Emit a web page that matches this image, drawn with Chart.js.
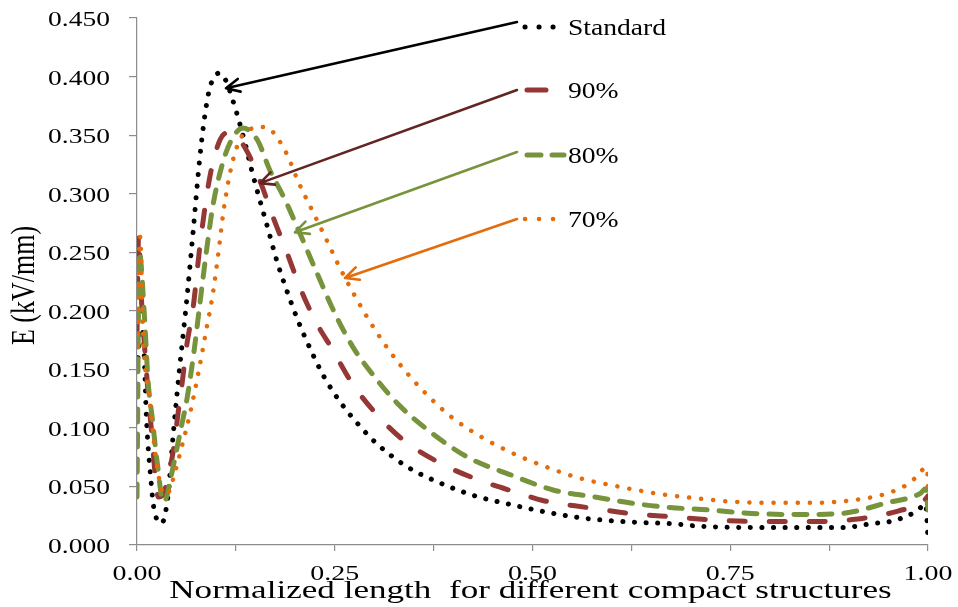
<!DOCTYPE html>
<html>
<head>
<meta charset="utf-8">
<script src="https://cdn.jsdelivr.net/npm/chart.js@4.4.1/dist/chart.umd.min.js"></script>
<style>
  body { margin: 0; background: #fff; }
  canvas { display: block; }
</style>
</head>
<body>
<canvas id="myChart" width="958" height="607"></canvas>
<script>
'use strict'

// series (x = normalized length, y = E in kV/mm)
let seriesNames = ['Standard', '90%', '80%', '70%'];

let stdX = [0, 0.005, 0.008, 0.012, 0.017, 0.021, 0.031, 0.039, 0.046, 0.054, 0.063, 0.071, 0.079, 0.085, 0.0915, 0.098, 0.104,
  0.112, 0.121, 0.129, 0.137, 0.145, 0.1555, 0.166, 0.1766, 0.189, 0.2027, 0.2187, 0.2364, 0.2588, 0.2853, 0.305,
  0.341, 0.383, 0.427, 0.476, 0.518, 0.564, 0.614, 0.68, 0.712, 0.779, 0.842, 0.893, 0.927, 0.958, 0.986, 0.997, 1.0];
let stdY = [0.15, 0.185, 0.178, 0.107, 0.06, 0.033, 0.0185, 0.041, 0.096, 0.152, 0.21, 0.268, 0.328, 0.363, 0.389, 0.400, 0.403,
  0.397, 0.380, 0.362, 0.342, 0.320, 0.294, 0.269, 0.243, 0.218, 0.193, 0.168, 0.1437, 0.1204, 0.0988, 0.0854,
  0.067, 0.053, 0.042, 0.034, 0.028, 0.023, 0.020, 0.018, 0.016, 0.015, 0.015, 0.015, 0.018, 0.021, 0.029, 0.035, 0.005];

let p90X = [0, 0.002, 0.006, 0.009, 0.014, 0.018, 0.023, 0.027, 0.033, 0.038, 0.046, 0.052, 0.057, 0.063, 0.071, 0.080, 0.092,
  0.105, 0.115, 0.127, 0.140, 0.156, 0.172, 0.190, 0.206, 0.225, 0.247, 0.272, 0.301, 0.336, 0.383, 0.430, 0.484,
  0.513, 0.569, 0.623, 0.678, 0.737, 0.794, 0.851, 0.908, 0.962, 0.994, 1.0];
let p90Y = [0.18, 0.265, 0.205, 0.175, 0.13, 0.10, 0.06, 0.041, 0.043, 0.055, 0.081, 0.113, 0.138, 0.171, 0.203, 0.258, 0.314,
  0.346, 0.352, 0.348, 0.335, 0.310, 0.280, 0.249, 0.220, 0.192, 0.167, 0.138, 0.113, 0.090, 0.070, 0.056, 0.044,
  0.038, 0.032, 0.027, 0.024, 0.021, 0.020, 0.020, 0.022, 0.029, 0.037, 0.042];

let p80X = [0, 0.003, 0.009, 0.014, 0.019, 0.026, 0.033, 0.037, 0.042, 0.050, 0.057, 0.063, 0.072, 0.080, 0.088, 0.096, 0.107,
  0.118, 0.134, 0.152, 0.168, 0.187, 0.206, 0.227, 0.250, 0.273, 0.301, 0.329, 0.368, 0.418, 0.472, 0.526, 0.579,
  0.633, 0.674, 0.722, 0.777, 0.834, 0.891, 0.948, 0.990, 0.997, 1.0];
let p80Y = [0.041, 0.25, 0.20, 0.14, 0.11, 0.068, 0.037, 0.040, 0.055, 0.081, 0.104, 0.124, 0.165, 0.209, 0.252, 0.290, 0.323,
  0.344, 0.356, 0.346, 0.320, 0.295, 0.266, 0.233, 0.198, 0.169, 0.143, 0.121, 0.098, 0.075, 0.060, 0.047, 0.041,
  0.035, 0.032, 0.030, 0.027, 0.026, 0.027, 0.036, 0.044, 0.048, 0.030];

let p70X = [0, 0.004, 0.008, 0.016, 0.023, 0.030, 0.035, 0.040, 0.048, 0.057, 0.067, 0.077, 0.088, 0.096, 0.103, 0.110, 0.120,
  0.130, 0.139, 0.152, 0.166, 0.177, 0.190, 0.204, 0.222, 0.240, 0.257, 0.276, 0.297, 0.320, 0.345, 0.370, 0.398,
  0.436, 0.476, 0.516, 0.560, 0.608, 0.657, 0.705, 0.753, 0.804, 0.853, 0.901, 0.948, 0.977, 0.999, 1.0];
let p70Y = [0.17, 0.263, 0.175, 0.124, 0.079, 0.050, 0.043, 0.045, 0.062, 0.085, 0.112, 0.145, 0.185, 0.215, 0.250, 0.288, 0.325,
  0.346, 0.353, 0.357, 0.356, 0.348, 0.333, 0.310, 0.285, 0.260, 0.236, 0.212, 0.188, 0.165, 0.144, 0.126, 0.109,
  0.092, 0.078, 0.067, 0.057, 0.050, 0.044, 0.040, 0.037, 0.036, 0.036, 0.038, 0.044, 0.053, 0.066, 0.040];

// axes
let xMin = 0, xMax = 1, xStep = 0.125, xLabelStep = 0.25;
let yMin = 0, yMax = 0.45, yStep = 0.05;
let xTitle = 'Normalized length  for different compact structures';
let yTitle = 'E (kV/mm)';

// callout arrows: from the legend entry to a point on each curve (data units)
let arrowFromX = [0.4804, 0.4804, 0.4804, 0.4804];
let arrowFromY = [0.4466, 0.3885, 0.3356, 0.2784];
let arrowToX = [0.1125, 0.1555, 0.1997, 0.263];
let arrowToY = [0.390, 0.309, 0.267, 0.228];
let legendDy = [5, 0, 3, 0];

let lineColors = ['#000000', '#953735', '#77933C', '#E46C0A'];
let arrowColors = ['#000000', '#632523', '#77933C', '#E46C0A'];

function zip(xs, ys) {
  let out = [];
  for (let i = 0; i < xs.length; i++) {
    out.push({ x: xs[i], y: ys[i] });
  }
  return out;
}

function stretchText(c, text, x, y, sx, align) {
  c.save();
  c.translate(x, y);
  c.scale(sx, 1);
  c.textAlign = align;
  c.fillText(text, 0, 0);
  c.restore();
}

function drawArrow(c, x1, y1, x2, y2, color, width) {
  let ang = Math.atan2(y1 - y2, x1 - x2);
  let len = 15, spread = 0.45;
  c.save();
  c.strokeStyle = color;
  c.lineWidth = width;
  c.lineCap = 'round';
  c.lineJoin = 'round';
  c.setLineDash([]);
  c.beginPath();
  c.moveTo(x1, y1);
  c.lineTo(x2, y2);
  c.moveTo(x2 + len * Math.cos(ang - spread), y2 + len * Math.sin(ang - spread));
  c.lineTo(x2, y2);
  c.lineTo(x2 + len * Math.cos(ang + spread), y2 + len * Math.sin(ang + spread));
  c.stroke();
  c.restore();
}

const textPlugin = {
  id: 'texts',
  afterDraw(chart) {
    const c = chart.ctx;
    const xs = chart.scales.x;
    const ys = chart.scales.y;
    const area = chart.chartArea;
    c.save();
    c.fillStyle = '#000';
    c.textBaseline = 'alphabetic';

    // y tick labels
    c.font = '21px "Liberation Serif", "Times New Roman", serif';
    ys.ticks.forEach(t => {
      stretchText(c, t.value.toFixed(3), 110, ys.getPixelForValue(t.value) + 8, 1.31, 'right');
    });

    // x tick labels, every other tick
    c.font = '22px "Liberation Serif", "Times New Roman", serif';
    xs.ticks.forEach(t => {
      let k = t.value / xLabelStep;
      if (Math.abs(k - Math.round(k)) < 1e-6) {
        stretchText(c, t.value.toFixed(2), xs.getPixelForValue(t.value), 580, 1.27, 'center');
      }
    });

    // axis titles
    c.font = '26px "Liberation Serif", "Times New Roman", serif';
    stretchText(c, xTitle, (area.left + area.right) / 2 - 2, 598, 1.35, 'center');
    c.save();
    c.translate(25, (area.top + area.bottom) / 2 + 4);
    c.rotate(-Math.PI / 2);
    c.scale(1, 1.3);
    c.textAlign = 'center';
    c.textBaseline = 'middle';
    c.fillText(yTitle, 0, 0);
    c.restore();

    // arrows
    for (let i = 0; i < arrowFromX.length; i++) {
      drawArrow(c,
        xs.getPixelForValue(arrowFromX[i]), ys.getPixelForValue(arrowFromY[i]),
        xs.getPixelForValue(arrowToX[i]), ys.getPixelForValue(arrowToY[i]),
        arrowColors[i], 2.6);
    }

    // legend samples + labels, next to the arrow tails
    c.font = '24px "Liberation Serif", "Times New Roman", serif';
    chart.data.datasets.forEach((ds, i) => {
      let ly = ys.getPixelForValue(arrowFromY[i]) + legendDy[i];
      let lx = xs.getPixelForValue(arrowFromX[i]) + 8;
      c.save();
      c.strokeStyle = ds.borderColor;
      c.lineWidth = ds.borderWidth;
      c.lineCap = 'round';
      c.beginPath();
      if (i === 1) {
        c.moveTo(lx + 2, ly); c.lineTo(lx + 21, ly);
      } else if (i === 2) {
        c.moveTo(lx + 2, ly); c.lineTo(lx + 16, ly);
        c.moveTo(lx + 27, ly); c.lineTo(lx + 39, ly);
      } else {
        for (let k = 0; k < 3; k++) { c.moveTo(lx + k * 14, ly); c.lineTo(lx + k * 14 + 0.1, ly); }
      }
      c.stroke();
      c.restore();
      stretchText(c, ds.label, 568, ly + 8, 1.15, 'left');
    });
    c.restore();
  }
};

let ctx = document.getElementById('myChart').getContext('2d');
let myChart = new Chart(ctx, {
  type: 'line',
  data: {
    datasets: [
      { label: seriesNames[0], data: zip(stdX, stdY), borderColor: lineColors[0], borderWidth: 5, borderDash: [0.1, 11.5], order: 3 },
      { label: seriesNames[1], data: zip(p90X, p90Y), borderColor: lineColors[1], borderWidth: 5, borderDash: [16, 24], order: 2 },
      { label: seriesNames[2], data: zip(p80X, p80Y), borderColor: lineColors[2], borderWidth: 5, borderDash: [13, 12], order: 1 },
      { label: seriesNames[3], data: zip(p70X, p70Y), borderColor: lineColors[3], borderWidth: 4.5, borderDash: [0.1, 12], order: 0 }
    ].map(d => Object.assign(d, {
      pointRadius: 0,
      fill: false,
      borderCapStyle: 'round',
      borderJoinStyle: 'round',
      cubicInterpolationMode: 'monotone'
    }))
  },
  options: {
    responsive: false,
    animation: false,
    events: [],
    layout: { padding: { top: 18, right: 30, left: 0, bottom: 0 } },
    plugins: {
      legend: { display: false },
      tooltip: { enabled: false }
    },
    scales: {
      x: {
        type: 'linear',
        min: xMin,
        max: xMax,
        ticks: { stepSize: xStep, display: false },
        grid: { drawOnChartArea: false, drawTicks: true, tickLength: 6, color: '#8c8c8c', lineWidth: 1.2 },
        border: { display: true, color: '#8c8c8c', width: 1.2 },
        afterFit: s => { s.height = 62; }
      },
      y: {
        type: 'linear',
        min: yMin,
        max: yMax,
        ticks: { stepSize: yStep, display: false },
        grid: { drawOnChartArea: false, drawTicks: true, tickLength: 8, color: '#8c8c8c', lineWidth: 1.2 },
        border: { display: true, color: '#8c8c8c', width: 1.2 },
        afterFit: s => { s.width = 137; }
      }
    }
  },
  plugins: [textPlugin]
});
</script>
</body>
</html>
